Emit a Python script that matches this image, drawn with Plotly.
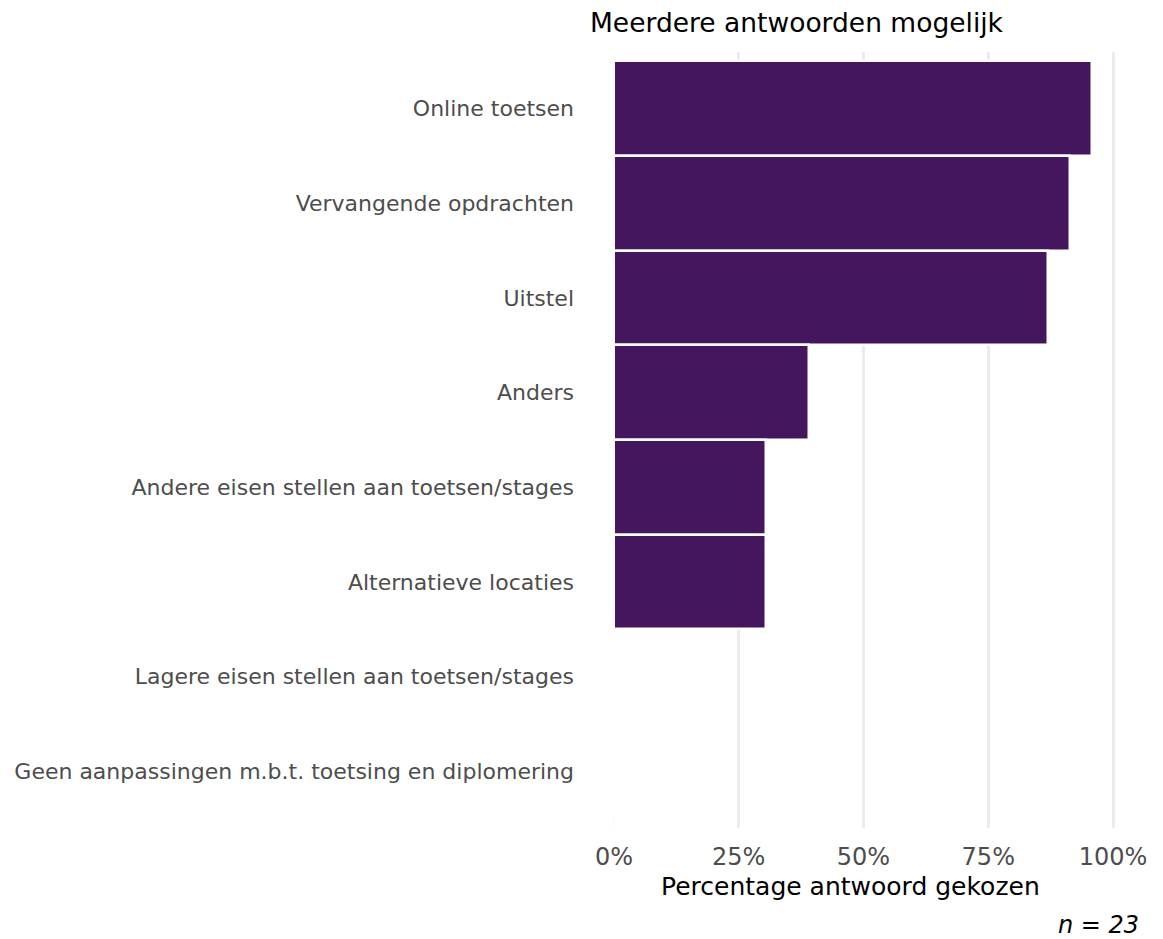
import plotly.graph_objects as go

categories = [
    "Online toetsen",
    "Vervangende opdrachten",
    "Uitstel",
    "Anders",
    "Andere eisen stellen aan toetsen/stages",
    "Alternatieve locaties",
    "Lagere eisen stellen aan toetsen/stages",
    "Geen aanpassingen m.b.t. toetsing en diplomering",
]
percentages = [95.7, 91.3, 87.0, 39.1, 30.4, 30.4, 0.0, 0.0]
x_ticks = [0, 25, 50, 75, 100]
x_ticklabels = ["0%", "25%", "50%", "75%", "100%"]

FONT = "Verdana, DejaVu Sans, sans-serif"

# the page body adds an 8px offset, so the figure is 8px smaller
W, H = 1155, 931
ML, MR, MT, MB = 581, 25, 44, 111
PW = W - ML - MR
PH = H - MT - MB

fig = go.Figure(
    go.Bar(
        x=percentages,
        y=categories,
        orientation="h",
        width=1.0,
        marker=dict(color="#44165e", line=dict(color="white", width=2.5)),
        hoverinfo="x+y",
    )
)

fig.update_layout(
    width=W,
    height=H,
    margin=dict(l=ML, r=MR, t=MT, b=MB, autoexpand=False),
    plot_bgcolor="white",
    paper_bgcolor="white",
    showlegend=False,
    bargap=0,
    font=dict(family=FONT),
    title=dict(
        text="Meerdere antwoorden mogelijk",
        x=(ML + 1) / W,
        xanchor="left",
        y=1 - 15 / H,
        yanchor="middle",
        font=dict(size=26.5, color="black", family=FONT),
    ),
)

fig.update_xaxes(
    range=[-5, 105],
    tickvals=x_ticks,
    ticktext=x_ticklabels,
    automargin=False,
    showgrid=True,
    gridcolor="#ebebeb",
    gridwidth=2.5,
    zeroline=True,
    zerolinecolor="#f8f8f8",
    zerolinewidth=1,
    showline=False,
    ticks="",
    ticklabelstandoff=12,
    tickfont=dict(size=24, color="#4d4d4d", family=FONT),
)

fig.update_yaxes(
    categoryorder="array",
    categoryarray=categories[::-1],
    range=[-0.6, len(categories) - 0.4],
    automargin=False,
    showgrid=False,
    zeroline=False,
    showline=False,
    ticks="",
    ticklabelstandoff=14,
    tickfont=dict(size=22, color="#4d4d4d", family=FONT),
)

# x-axis title
fig.add_annotation(
    text="Percentage antwoord gekozen",
    xref="paper",
    yref="paper",
    x=(850 - 8 - ML) / PW,
    y=-58 / PH,
    xanchor="center",
    yanchor="middle",
    showarrow=False,
    font=dict(size=25, color="black", family=FONT),
)

# caption
fig.add_annotation(
    text="<i>n = 23</i>",
    xref="paper",
    yref="paper",
    x=1.0,
    xshift=3,
    y=-97 / PH,
    xanchor="right",
    yanchor="middle",
    showarrow=False,
    font=dict(size=24, color="black", family=FONT),
)

fig.write_html("out.html")
